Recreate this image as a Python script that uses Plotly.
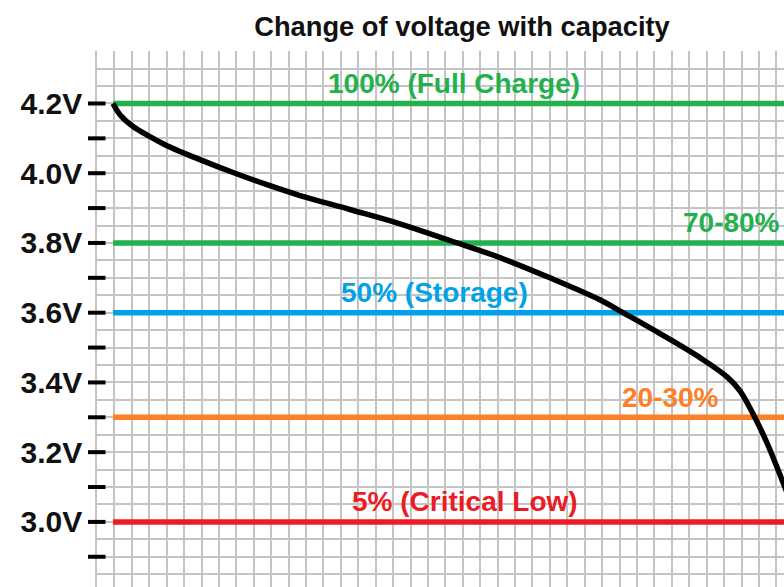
import plotly.graph_objects as go

# Discharge curve: capacity used (grid units) vs cell voltage
capacity = [0.92, 1.32, 2.07, 3.04, 4.02, 5.91, 7.81, 9.76, 11.65, 14.52, 17.39,
            20.26, 23.13, 26.00, 28.87, 30.20, 32.32, 34.62, 36.17, 36.91, 37.66,
            38.46, 39.21, 39.78]
voltage = [4.200, 4.168, 4.134, 4.105, 4.079, 4.039, 4.002, 3.967, 3.936, 3.896, 3.855,
           3.807, 3.758, 3.700, 3.637, 3.600, 3.540, 3.471, 3.416, 3.376, 3.310,
           3.227, 3.135, 3.063]

# Reference charge levels
level_volts = [4.2, 3.8, 3.6, 3.3, 3.0]
level_names = ["100% (Full Charge)", "70-80%", "50% (Storage)", "20-30%", "5% (Critical Low)"]
level_colors = ["#22b14c", "#22b14c", "#00a2e8", "#ff7f27", "#ed1c24"]
label_x = [20.47, 39.32, 19.35, 32.95, 21.1]
label_anchor = ["center", "right", "center", "center", "center"]

# Axis tick marks every 0.1 V
tick_volts = [2.9, 3.0, 3.1, 3.2, 3.3, 3.4, 3.5, 3.6, 3.7, 3.8, 3.9, 4.0, 4.1, 4.2]

X_RANGE = [-0.001, 39.44]
Y_RANGE = [2.8133, 4.3505]
GRID = "#c4c4c4"
FONT = "Liberation Sans, Arial, sans-serif"

fig = go.Figure()

line_start = capacity[0]
for v, c in zip(level_volts, level_colors):
    fig.add_trace(go.Scatter(
        x=[line_start, 45], y=[v, v], mode="lines",
        line=dict(color=c, width=5.5), hoverinfo="skip", showlegend=False))

fig.add_trace(go.Scatter(
    x=capacity, y=voltage, mode="lines",
    line=dict(color="black", width=5.5, shape="spline", smoothing=1.0),
    hoverinfo="skip", showlegend=False))

# Short black tick dashes straddling the left edge of the grid
for v in tick_volts:
    fig.add_shape(type="line", xref="paper", yref="y", xsizemode="pixel", xanchor=0,
                  x0=-9, x1=8.5, y0=v, y1=v, layer="above",
                  line=dict(color="black", width=4))

for v, name, c, lx, anc in zip(level_volts, level_names, level_colors, label_x, label_anchor):
    fig.add_annotation(
        x=lx, y=v, xref="x", yref="y", text=name, showarrow=False,
        xanchor=anc, yanchor="middle", yshift=20,
        font=dict(family=FONT, size=28, color=c, weight="bold"))

fig.update_layout(
    width=784, height=587,
    margin=dict(l=97, r=0, t=51, b=0),
    paper_bgcolor="white", plot_bgcolor="white",
    title=dict(text="Change of voltage with capacity", x=462 / 784, xref="container",
               xanchor="center", y=1 - 26 / 587, yanchor="middle", yref="container",
               font=dict(family=FONT, size=27.3, color="#111111", weight="bold")),
    xaxis=dict(range=X_RANGE, dtick=1, tick0=0, showgrid=True, gridcolor=GRID, gridwidth=1.5,
               showticklabels=False, ticks="", zeroline=False, showline=False, fixedrange=True),
    yaxis=dict(range=Y_RANGE, tickmode="linear", dtick=0.2, tick0=3.0, tickformat=".1f",
               ticksuffix="V", ticks="outside", ticklen=7, tickcolor="rgba(0,0,0,0)",
               showgrid=True, gridcolor=GRID, gridwidth=1.5, zeroline=False,
               showline=True, linecolor=GRID, linewidth=1.5,
               minor=dict(dtick=0.05, tick0=3.0, showgrid=True, gridcolor=GRID, gridwidth=1.5),
               tickfont=dict(family=FONT, size=30, color="#111111", weight="bold"),
               fixedrange=True),
)

fig.write_html("out.html", config={"displayModeBar": False})
